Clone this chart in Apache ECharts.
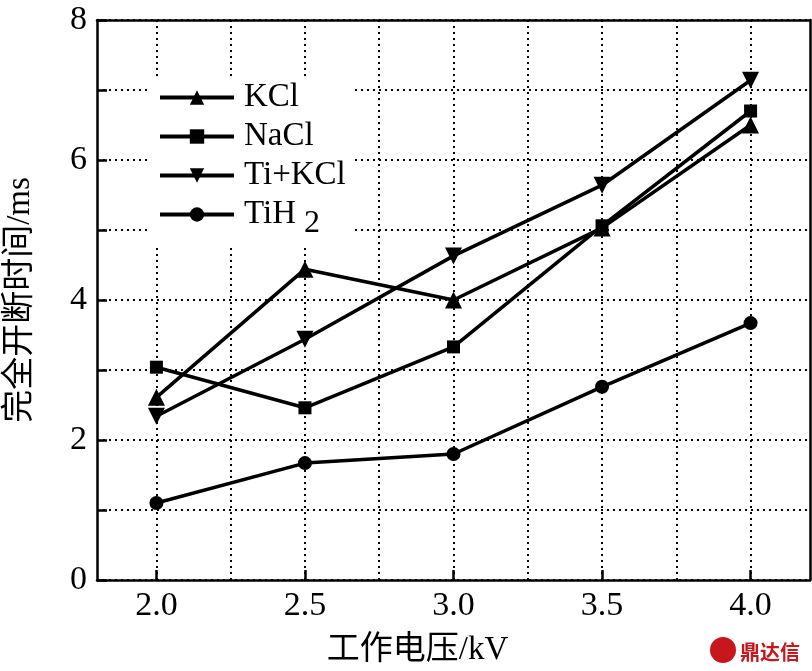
<!DOCTYPE html>
<html><head><meta charset="utf-8">
<script src="https://cdn.jsdelivr.net/npm/echarts@6/dist/echarts.min.js"></script>
<style>html,body{margin:0;padding:0;background:#fff}#c{width:812px;height:671px}</style>
</head><body><div id="c"></div>
<script>
const voltages = [2.0, 2.5, 3.0, 3.5, 4.0];
const kcl = [2.61, 4.44, 4.0, 5.03, 6.5];
const nacl = [3.04, 2.46, 3.33, 5.06, 6.7];
const tikcl = [2.34, 3.44, 4.63, 5.64, 7.14];
const tih2 = [1.1, 1.67, 1.8, 2.76, 3.67];
const xTicks = [2.0, 2.5, 3.0, 3.5, 4.0];
const xGrid = [2.0, 2.25, 2.5, 2.75, 3.0, 3.25, 3.5, 3.75, 4.0];
const yLabels = [0, 2, 4, 6, 8];

const FONT = "'Liberation Serif', 'Noto Sans CJK SC', serif";
const chart = echarts.init(document.getElementById('c'));
const pair = arr => voltages.map((v, i) => [v, arr[i]]);
const mk = (name, arr, symbol, size, rot) => ({
  name, type: 'line', data: pair(arr), symbol, symbolSize: size, symbolRotate: rot || 0,
  lineStyle: {color: '#000', width: 3.5}, itemStyle: {color: '#000'},
  animation: false, z: 3
});
chart.setOption({
  backgroundColor: '#fff',
  animation: false,
  grid: {left: 97, right: 2, top: 20, bottom: 91, containLabel: false, outerBoundsMode: 'none'},
  legend: {
    orient: 'vertical', left: 150, top: 77, padding: [4, 8, 8, 8],
    backgroundColor: '#fff', itemWidth: 74, itemHeight: 18, itemGap: 6,
    lineStyle: {width: 4, color: '#000'},
    textStyle: {fontFamily: FONT, fontSize: 33, color: '#000', padding: [0, 0, 0, 5],
      rich: {sub: {fontFamily: FONT, fontSize: 32, color: '#000', padding: [18, 0, 0, 8]}}},
    formatter: n => n === 'TiH2' ? 'TiH{sub|2}' : n,
    data: ['KCl', 'NaCl', 'Ti+KCl', 'TiH2']
  },
  xAxis: [{
    type: 'value', min: 1.8, max: 4.2, position: 'bottom',
    name: '工作电压/kV', nameLocation: 'middle', nameGap: 54,
    nameTextStyle: {fontFamily: FONT, fontSize: 33, color: '#000', padding: [0, 72, 0, 0]},
    axisLine: {show: true, lineStyle: {color: '#000', width: 2.5}},
    axisTick: {show: true, inside: true, length: 10, lineStyle: {color: '#000', width: 2.5}, customValues: xTicks},
    axisLabel: {customValues: xTicks, formatter: v => v.toFixed(1), fontFamily: FONT, fontSize: 34, color: '#000', margin: 9},
    splitLine: {show: false}
  }, {
    type: 'value', min: 1.8, max: 4.2, position: 'top',
    axisLine: {show: true, onZero: false, lineStyle: {color: '#000', width: 2.5}},
    axisTick: {show: false, customValues: xGrid},
    axisLabel: {show: false},
    splitLine: {show: true, lineStyle: {color: '#000', width: 2, type: [2, 4]}}
  }],
  yAxis: [{
    type: 'value', min: 0, max: 8, interval: 1, position: 'left',
    name: '完全开断时间/ms', nameLocation: 'middle', nameGap: 60,
    nameTextStyle: {fontFamily: FONT, fontSize: 33, color: '#000'},
    axisLine: {show: true, lineStyle: {color: '#000', width: 2.5}},
    axisTick: {show: true, inside: true, length: 10, lineStyle: {color: '#000', width: 2.5}},
    axisLabel: {formatter: v => (yLabels.indexOf(v) >= 0 ? String(v) : ''), fontFamily: FONT, fontSize: 34, color: '#000', margin: 10},
    splitLine: {show: true, lineStyle: {color: '#000', width: 2, type: [2, 4]}}
  }, {
    type: 'value', min: 0, max: 8, interval: 1, position: 'right',
    axisLine: {show: true, lineStyle: {color: '#000', width: 2.5}},
    axisTick: {show: false}, axisLabel: {show: false}, splitLine: {show: false}
  }],
  graphic: [{
    type: 'text', right: 12, bottom: 9,
    style: {text: '鼎达信', fontFamily: "'Noto Sans CJK SC'", fontWeight: 'bold', fontSize: 20, fill: '#c8161d'}
  }, {
    type: 'circle', right: 76, bottom: 8, shape: {r: 13},
    style: {fill: '#c8161d'}
  }],
  series: [
    mk('KCl', kcl, 'triangle', 17),
    mk('NaCl', nacl, 'rect', 13),
    mk('Ti+KCl', tikcl, 'triangle', 17, 180),
    mk('TiH2', tih2, 'circle', 14)
  ]
});
</script></body></html>
